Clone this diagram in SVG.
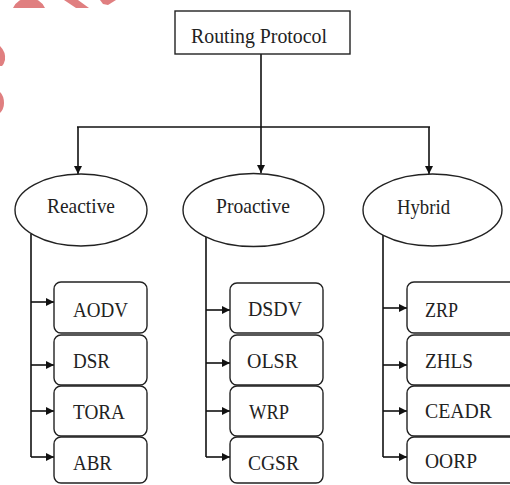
<svg xmlns="http://www.w3.org/2000/svg" width="510" height="485" viewBox="0 0 510 485">
  <defs>
    <style>
      .box { fill: #ffffff; stroke: #222222; stroke-width: 1.4; }
      .lbl { font-family: "Liberation Serif", "Times New Roman", serif; font-size: 22px; fill: #222222; }
      .wire { fill: none; stroke: #111111; stroke-width: 1.6; }
      .mark { fill: #e07f80; }
    </style>
    <marker id="head" viewBox="0 0 10 10" refX="10" refY="5" markerWidth="9" markerHeight="8" markerUnits="userSpaceOnUse" orient="auto">
      <path d="M0,0 L10,5 L0,10 Z" fill="#111111"/>
    </marker>
  </defs>
  <rect width="510" height="485" fill="#ffffff"/>

  <!-- decorative red fragments at the top-left edge -->
  <g id="corner-marks">
    <path class="mark" d="M13,8 A17.7,17.7 0 0 1 45,8 Z"/>
    <path class="mark" d="M64,0 L78,0 L89,8 L76,8 Z"/>
    <path class="mark" d="M100,0 L116,0 L108,5 L103,4 Z"/>
    <path class="mark" d="M0,46 Q6,52 5,60 Q4,64 2,66 L0,66 Z"/>
    <path class="mark" d="M0,92 Q4,96 4,103 Q4,109 0,113 Z"/>
  </g>

  <!-- connectors -->
  <g id="connectors">
    <path class="wire" d="M261,54 V127"/>
    <path class="wire" d="M77,127 H430"/>
    <path class="wire" d="M78,127 V174" marker-end="url(#head)"/>
    <path class="wire" d="M261,127 V173" marker-end="url(#head)"/>
    <path class="wire" d="M429,127 V174" marker-end="url(#head)"/>

    <path class="wire" d="M31,234 V457"/>
    <path class="wire" d="M31,302 H54" marker-end="url(#head)"/>
    <path class="wire" d="M31,365 H54" marker-end="url(#head)"/>
    <path class="wire" d="M31,411 H54" marker-end="url(#head)"/>
    <path class="wire" d="M31,457 H54" marker-end="url(#head)"/>

    <path class="wire" d="M206,237 V457"/>
    <path class="wire" d="M206,310 H230" marker-end="url(#head)"/>
    <path class="wire" d="M206,363 H230" marker-end="url(#head)"/>
    <path class="wire" d="M206,411 H230" marker-end="url(#head)"/>
    <path class="wire" d="M206,457 H230" marker-end="url(#head)"/>

    <path class="wire" d="M383,235 V457"/>
    <path class="wire" d="M383,308 H407" marker-end="url(#head)"/>
    <path class="wire" d="M383,365 H407" marker-end="url(#head)"/>
    <path class="wire" d="M383,411 H407" marker-end="url(#head)"/>
    <path class="wire" d="M383,457 H407" marker-end="url(#head)"/>
  </g>

  <!-- root -->
  <g id="routing-protocol">
    <rect class="box" x="175" y="11" width="175" height="43"/>
    <text class="lbl" x="191" y="43" textLength="136" lengthAdjust="spacingAndGlyphs">Routing Protocol</text>
  </g>

  <!-- categories -->
  <g id="reactive">
    <ellipse class="box" cx="81" cy="210" rx="66" ry="36"/>
    <text class="lbl" x="47" y="213" textLength="68" lengthAdjust="spacingAndGlyphs">Reactive</text>
  </g>
  <g id="proactive">
    <ellipse class="box" cx="253.5" cy="210" rx="70.5" ry="36.5"/>
    <text class="lbl" x="216" y="213" textLength="74" lengthAdjust="spacingAndGlyphs">Proactive</text>
  </g>
  <g id="hybrid">
    <ellipse class="box" cx="432.5" cy="210" rx="69.5" ry="36"/>
    <text class="lbl" x="397" y="214" textLength="53" lengthAdjust="spacingAndGlyphs">Hybrid</text>
  </g>

  <!-- reactive protocols -->
  <g id="aodv">
    <rect class="box" x="54" y="282" width="93" height="51" rx="7"/>
    <text class="lbl" x="73" y="317" textLength="55" lengthAdjust="spacingAndGlyphs">AODV</text>
  </g>
  <g id="dsr">
    <rect class="box" x="54" y="335" width="93" height="50" rx="7"/>
    <text class="lbl" x="73" y="368" textLength="37" lengthAdjust="spacingAndGlyphs">DSR</text>
  </g>
  <g id="tora">
    <rect class="box" x="54" y="386" width="93" height="50" rx="7"/>
    <text class="lbl" x="73" y="419" textLength="52" lengthAdjust="spacingAndGlyphs">TORA</text>
  </g>
  <g id="abr">
    <rect class="box" x="54" y="437" width="93" height="46" rx="7"/>
    <text class="lbl" x="73" y="470" textLength="39" lengthAdjust="spacingAndGlyphs">ABR</text>
  </g>

  <!-- proactive protocols -->
  <g id="dsdv">
    <rect class="box" x="230" y="283" width="93" height="50" rx="7"/>
    <text class="lbl" x="248" y="316" textLength="54" lengthAdjust="spacingAndGlyphs">DSDV</text>
  </g>
  <g id="olsr">
    <rect class="box" x="230" y="335" width="93" height="50" rx="7"/>
    <text class="lbl" x="247" y="368" textLength="51" lengthAdjust="spacingAndGlyphs">OLSR</text>
  </g>
  <g id="wrp">
    <rect class="box" x="230" y="386" width="93" height="50" rx="7"/>
    <text class="lbl" x="249" y="419" textLength="40" lengthAdjust="spacingAndGlyphs">WRP</text>
  </g>
  <g id="cgsr">
    <rect class="box" x="230" y="437" width="93" height="46" rx="7"/>
    <text class="lbl" x="248" y="470" textLength="51" lengthAdjust="spacingAndGlyphs">CGSR</text>
  </g>

  <!-- hybrid protocols -->
  <g id="zrp">
    <rect class="box" x="407" y="282" width="120" height="51" rx="7"/>
    <text class="lbl" x="425" y="317" textLength="33" lengthAdjust="spacingAndGlyphs">ZRP</text>
  </g>
  <g id="zhls">
    <rect class="box" x="407" y="335" width="120" height="50" rx="7"/>
    <text class="lbl" x="425" y="368" textLength="48" lengthAdjust="spacingAndGlyphs">ZHLS</text>
  </g>
  <g id="ceadr">
    <rect class="box" x="407" y="386" width="120" height="50" rx="7"/>
    <text class="lbl" x="425" y="418" textLength="67" lengthAdjust="spacingAndGlyphs">CEADR</text>
  </g>
  <g id="oorp">
    <rect class="box" x="407" y="437" width="120" height="46" rx="7"/>
    <text class="lbl" x="425" y="468" textLength="52" lengthAdjust="spacingAndGlyphs">OORP</text>
  </g>
</svg>
